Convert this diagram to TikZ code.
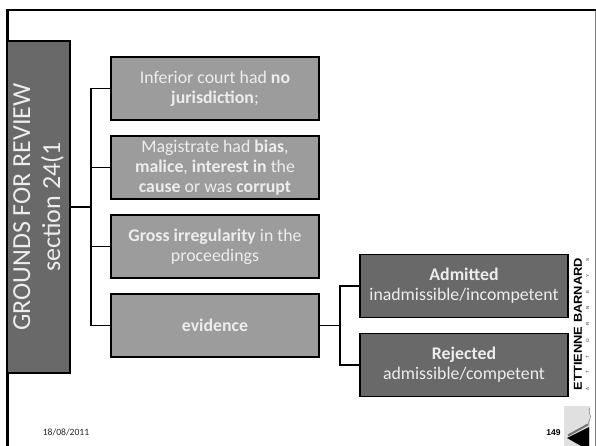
\documentclass[tikz,border=0pt]{standalone}
\usepackage{graphicx}
\usepackage{fontspec}
\setmainfont{Carlito}
\setsansfont{Liberation Sans}
\usetikzlibrary{positioning}
\definecolor{darkbox}{gray}{0.41}
\definecolor{midbox}{gray}{0.61}
\definecolor{textgrey}{gray}{0.93}
\tikzset{
  headbox/.style={draw=black, line width=1.2pt, fill=darkbox, text=textgrey, minimum height=63pt, inner sep=0pt, align=center, font=\fontsize{26}{30}\selectfont, rotate=90},
  groundbox/.style={draw=black, line width=1.2pt, fill=midbox, text=textgrey, minimum width=208pt, minimum height=63pt, inner sep=0pt, align=center, font=\fontsize{17.8}{20}\selectfont},
  resultbox/.style={groundbox, fill=darkbox},
  link/.style={draw=black, line width=1.2pt}
}
\begin{document}
\begin{tikzpicture}[x=1pt, y=-1pt]
  \useasboundingbox (0,0) rectangle (596,446);
  \draw[color=black!50, line width=1pt] (595.5,9) -- (595.5,446);
  \draw[color=black, line width=2.4pt] (7.5,446) -- (7.5,10) -- (596,10);
  % left column
  \node[headbox, minimum width=332pt] (head) at (38.5,207) {GROUNDS FOR REVIEW\\section 24(1};
  \node[groundbox] (ground1) at (215,88.5) {Inferior court had \textbf{no}\\\textbf{jurisdiction};};
  \node[groundbox] (ground2) at (215,167.5) {Magistrate had \textbf{bias},\\\textbf{malice}, \textbf{interest in} the\\\textbf{cause} or was \textbf{corrupt}};
  \node[groundbox] (ground3) at (215,246.5) {\textbf{Gross irregularity} in the\\proceedings};
  \node[groundbox] (ground4) at (215,325.5) {\textbf{evidence}};
  \node[resultbox] (result1) at (464,286) {\textbf{Admitted}\\inadmissible/incompetent};
  \node[resultbox] (result2) at (464,365) {\textbf{Rejected}\\admissible/competent};
  % connectors
  \coordinate (fork1) at (91,207);
  \coordinate (fork2) at (340,325.5);
  \draw[link] (head.south) -- (fork1);
  \foreach \g in {ground1,ground2,ground3,ground4}
  {
  \draw[link] (fork1) |- (\g.west);
  }
  \draw[link] (ground4.east) -- (fork2);
  \foreach \r in {result1,result2}
  {
  \draw[link] (fork2) |- (\r.west);
  }
  % footer
  \node[font=\fontsize{9.6}{11}\selectfont, text=black!85] (date) at (66,432) {18/08/2011};
  \node[font=\sffamily\bfseries\fontsize{8.5}{9}\selectfont] (page) at (553.5,433) {149};
  \fill[black!12] (564,406) rectangle (590,446);
  \draw[black!55, line width=2pt] (568,435.5) -- (588,424.5);
  \fill[black] (567,438) -- (589,427) -- (589,446) -- (581,446) -- cycle;
  \draw[black!60, line width=0.4pt] (590,408) .. controls (587,412) and (592,415) .. (590,419) .. controls (589,421) and (588,423) .. (588,425);
  % logo
  \node[rotate=90, font=\sffamily\bfseries\fontsize{11.5}{12}\selectfont] (logo) at (578,324) {\scalebox{1.12}[1]{ETTIENNE BARNARD}};
  \node[rotate=90, font=\sffamily\fontsize{4.5}{5}\selectfont, text=black!80] (attorneys) at (587.5,324) {\makebox[132pt]{A\hfill T\hfill T\hfill O\hfill R\hfill N\hfill E\hfill Y\hfill S}};
\end{tikzpicture}
\end{document}
